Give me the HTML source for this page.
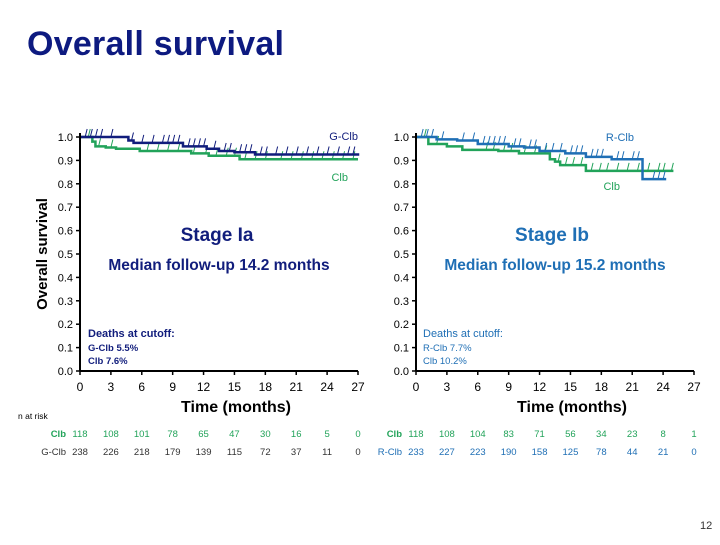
<!DOCTYPE html>
<html><head><meta charset="utf-8"><style>
body{margin:0;background:#fff;width:720px;height:540px;overflow:hidden;font-family:"Liberation Sans",sans-serif}
</style></head><body>
<svg id="s" width="720" height="540" xmlns="http://www.w3.org/2000/svg" font-family="Liberation Sans, sans-serif">
<text x="27" y="55" font-size="34" font-weight="bold" fill="#0d1a80" textLength="257">Overall survival</text>
<text x="700" y="529" font-size="11" fill="#333">12</text>
</svg>
<script>
// ---- data ----
const xTicks = [0,3,6,9,12,15,18,21,24,27];
const yTicks = [0.0,0.1,0.2,0.3,0.4,0.5,0.6,0.7,0.8,0.9,1.0];
const leftGclbT = [0,4.7,5.2,10,12.3,13.5,15,17,27];
const leftGclbS = [1,0.985,0.975,0.96,0.95,0.94,0.935,0.925,0.92];
const leftClbT = [0,1.2,1.5,2.5,3.5,5.8,10.8,12.5,15.5,27];
const leftClbS = [1,0.98,0.96,0.955,0.95,0.94,0.93,0.92,0.905,0.905];
const rightRclbT = [0,2,4,6,9,10.5,12,14.5,16.5,19,22,24.3];
const rightRclbS = [1,0.99,0.985,0.97,0.96,0.955,0.94,0.93,0.915,0.905,0.82,0.82];
const rightClbT = [0,1.2,3,4.5,8,10,13,13.5,14,16.5,25];
const rightClbS = [1,0.97,0.96,0.945,0.94,0.93,0.905,0.895,0.88,0.855,0.855];
const leftGclbCens = [0.5,1,1.5,2,3,5,6,7,8,8.5,9,9.5,10.5,11,11.5,12,13,14,14.5,15.5,16,16.5,17.5,18,19,20,21,22,23,24,25,26,26.5];
const leftClbCens = [0.8,1.8,3,6.5,7.5,8.5,9.5,11,12.2,13.2,14.2,15,16,17,18,19.5,20.5,21.5,22.5,23.5,24.5,25.5,26.5];
const rightRclbCens = [0.5,1,1.5,2.5,4.5,5.5,6.5,7,7.5,8,8.5,9.5,10,11,11.5,12.5,13.2,14,15,15.5,16,17,17.5,18,19.5,20,21,21.5,23,23.5,24];
const rightClbCens = [0.8,2,6.8,7.5,8.5,9.2,10.5,11.5,12.5,13.8,14.5,15.2,16,17,17.8,18.5,19.5,20.5,21.5,22.5,23.5,24,24.8];
const leftClbRisk = ["118","108","101","78","65","47","30","16","5","0"];
const leftGclbRisk = ["238","226","218","179","139","115","72","37","11","0"];
const rightClbRisk = ["118","108","104","83","71","56","34","23","8","1"];
const rightRclbRisk = ["233","227","223","190","158","125","78","44","21","0"];

const NS="http://www.w3.org/2000/svg", svg=document.getElementById('s');
function mk(tag,attrs,parent,txt){const e=document.createElementNS(NS,tag);for(const k in attrs)e.setAttribute(k,attrs[k]);if(txt!==undefined)e.textContent=txt;(parent||svg).appendChild(e);return e;}
const y0=371,y1=137;
function sy(v){return y0-(y0-y1)*v;}
function panel(x0,name,series,risk,info){
  const x1=x0+278, sx=t=>x0+t/27*(x1-x0);
  const g=mk('g',{});
  series.forEach(s=>{
    let d='M'+sx(s.t[0])+','+sy(s.s[0]);
    for(let i=1;i<s.t.length;i++){d+=' H'+sx(s.t[i])+' V'+sy(s.s[i]);}
    const p=mk('path',{d:d,fill:'none',stroke:s.c,'stroke-width':2.5},g);
    
    const st=t=>{let v=s.s[0];for(let i=0;i<s.t.length;i++)if(s.t[i]<=t)v=s.s[i];return v;};
    s.cens.forEach(t=>{const X=sx(t),Y=sy(st(t));const l=mk('line',{x1:X,y1:Y,x2:X+2,y2:Y-8,stroke:s.c,'stroke-width':1},g);
      });
  });
  const ax=mk('g',{},g);
  mk('line',{x1:x0,y1:y1-4,x2:x0,y2:y0,stroke:'#000','stroke-width':2},ax);
  mk('line',{x1:x0,y1:y0,x2:x1,y2:y0,stroke:'#000','stroke-width':2},ax);
  yTicks.forEach(v=>{mk('line',{x1:x0-4,y1:sy(v),x2:x0,y2:sy(v),stroke:'#000','stroke-width':1.5},ax);
    const t=mk('text',{x:x0-7,y:sy(v)+4,'font-size':11,'text-anchor':'end'},ax,v.toFixed(1));});
  xTicks.forEach(v=>{mk('line',{x1:sx(v),y1:y0,x2:sx(v),y2:y0+4,stroke:'#000','stroke-width':1.5},ax);
    const t=mk('text',{x:sx(v),y:y0+20,'font-size':12,'text-anchor':'middle'},ax,String(v));});
  const xt=mk('text',{x:(x0+x1)/2+17,y:412,'font-size':16,'font-weight':'bold','text-anchor':'middle'},g,'Time (months)');
  
  info(g,sx);
  risk.forEach((r,ri)=>{r.v.forEach((v,i)=>{const t=mk('text',{x:sx(xTicks[i]),y:r.y,'font-size':9.5,fill:r.c,'text-anchor':'middle'},g,v);
    });
    const l=mk('text',{x:x0-14,y:r.y,'font-size':9.5,fill:r.c,'text-anchor':'end','font-weight':ri==0?'bold':'normal'},g,r.n);
    });
}
const NAVY='#111d7c',GREEN='#22a35a',BLUE='#1f6fb5';
function txt(g,x,y,s,c,w,t,name,anchor){const e=mk('text',{x:x,y:y,'font-size':s,fill:c,'font-weight':w,'text-anchor':anchor||'start'},g,t);}
panel(80,'stage-ia-chart',[
  {n:'clb',t:leftClbT,s:leftClbS,c:GREEN,cens:leftClbCens},
  {n:'g-clb',t:leftGclbT,s:leftGclbS,c:NAVY,cens:leftGclbCens}],
  [{n:'Clb',v:leftClbRisk,c:GREEN,y:437},{n:'G-Clb',v:leftGclbRisk,c:'#333',y:455}],
  (g)=>{txt(g,358,140,11,NAVY,'normal','G-Clb','legend-g-clb','end');txt(g,348,181,11,GREEN,'normal','Clb','legend-clb','end');
   txt(g,217,241,19,NAVY,'bold','Stage Ia','panel-title','middle');txt(g,219,270,15.5,NAVY,'bold','Median follow-up 14.2 months','median-follow-up','middle');
   txt(g,88,337,11,NAVY,'bold','Deaths at cutoff:','deaths-title');txt(g,88,351,9.5,NAVY,'bold','G-Clb 5.5%','deaths-g-clb');txt(g,88,364,9.5,NAVY,'bold','Clb 7.6%','deaths-clb');});
panel(416,'stage-ib-chart',[
  {n:'clb',t:rightClbT,s:rightClbS,c:GREEN,cens:rightClbCens},
  {n:'r-clb',t:rightRclbT,s:rightRclbS,c:BLUE,cens:rightRclbCens}],
  [{n:'Clb',v:rightClbRisk,c:GREEN,y:437},{n:'R-Clb',v:rightRclbRisk,c:BLUE,y:455}],
  (g)=>{txt(g,634,141,11,BLUE,'normal','R-Clb','legend-r-clb','end');txt(g,620,190,11,GREEN,'normal','Clb','legend-clb','end');
   txt(g,552,241,19,BLUE,'bold','Stage Ib','panel-title','middle');txt(g,555,270,15.5,BLUE,'bold','Median follow-up 15.2 months','median-follow-up','middle');
   txt(g,423,337,11,BLUE,'normal','Deaths at cutoff:','deaths-title');txt(g,423,351,9.5,BLUE,'normal','R-Clb 7.7%','deaths-r-clb');txt(g,423,364,9.5,BLUE,'normal','Clb 10.2%','deaths-clb');});
const yt=mk('text',{x:0,y:0,'font-size':15,'font-weight':'bold',transform:'translate(47,254) rotate(-90)','text-anchor':'middle'},svg,'Overall survival');

const nr=mk('text',{x:18,y:419,'font-size':8.5,fill:'#000'},svg,'n at risk');

</script>
</body></html>
